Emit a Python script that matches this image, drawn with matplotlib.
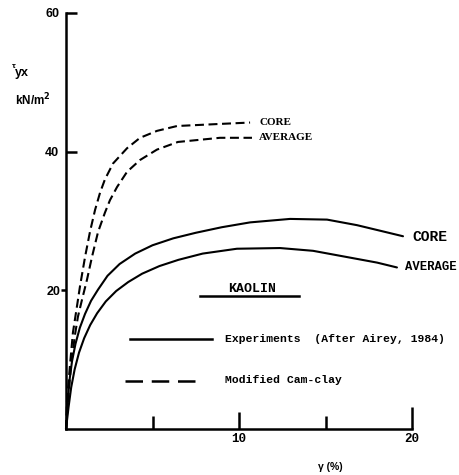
import numpy as np
import matplotlib
matplotlib.use('Agg')
import matplotlib.pyplot as plt

# --- данные (gamma в %, tau в kN/m2) ---
exp_core_g = [0.0, 0.1, 0.2, 0.35, 0.55, 0.8, 1.1, 1.45, 1.85, 2.4, 3.1, 4.0, 5.0,
              6.2, 7.5, 9.0, 10.64, 12.95, 15.09, 16.82, 18.32, 19.48]
exp_core_t = [0.0, 4.0, 7.0, 9.8, 12.3, 14.6, 16.6, 18.5, 20.1, 22.1, 23.8, 25.3, 26.5,
              27.5, 28.3, 29.1, 29.8, 30.3, 30.2, 29.4, 28.5, 27.8]

exp_avg_g = [0.0, 0.15, 0.3, 0.5, 0.75, 1.05, 1.4, 1.8, 2.3, 2.9, 3.6, 4.4, 5.4, 6.5,
             7.9, 9.88, 12.37, 14.28, 16.24, 17.98, 19.13]
exp_avg_t = [0.0, 3.2, 6.0, 8.6, 11.0, 13.1, 15.0, 16.7, 18.4, 19.9, 21.2, 22.4, 23.5,
             24.4, 25.3, 26.0, 26.1, 25.7, 24.8, 24.0, 23.3]

mcc_core_g = [0.0, 0.06, 0.23, 0.40, 0.64, 0.81, 1.10, 1.39, 1.68, 1.97, 2.25, 2.72,
              3.53, 4.28, 5.26, 6.42, 8.9, 10.64]
mcc_core_t = [0.0, 4.2, 9.2, 13.9, 17.8, 20.6, 24.8, 28.5, 31.6, 34.1, 36.0, 38.3,
              40.5, 42.0, 43.0, 43.7, 44.0, 44.2]

mcc_avg_g = [0.0, 0.12, 0.29, 0.52, 0.69, 0.92, 1.21, 1.50, 1.85, 2.25, 2.54, 2.95,
             3.53, 4.28, 5.26, 6.47, 8.9, 10.75]
mcc_avg_t = [0.0, 4.2, 9.2, 13.6, 16.2, 18.6, 21.5, 24.8, 28.4, 31.2, 33.0, 34.9,
             37.1, 38.8, 40.3, 41.4, 42.0, 42.0]

MONO = 'Liberation Mono'
SANS = 'Liberation Sans'
SERIF = 'Liberation Serif'

fig = plt.figure(figsize=(4.59, 4.75), dpi=100)
fig.patch.set_facecolor('white')
# оси расположены так, чтобы 0..20 и 0..60 совпадали с картинкой
ax = fig.add_axes([66 / 459, 46 / 475, 346 / 459, 416 / 475])
ax.set_xlim(0, 20)
ax.set_ylim(0, 60)
ax.set_facecolor('none')

for side in ('top', 'right'):
    ax.spines[side].set_visible(False)
for side in ('left', 'bottom'):
    ax.spines[side].set_linewidth(1.8)

# Кривые
lw = 1.5
solid_kw = dict(color='black', lw=lw, solid_capstyle='round', solid_joinstyle='round', clip_on=False)
dash_kw = dict(color='black', lw=lw, dashes=(4.3, 2.2), dash_joinstyle='round', clip_on=False)
ax.plot(exp_core_g, exp_core_t, **solid_kw)
ax.plot(exp_avg_g, exp_avg_t, **solid_kw)
ax.plot(mcc_core_g, mcc_core_t, **dash_kw)
ax.plot(mcc_avg_g, mcc_avg_t, **dash_kw)

# Деления оси X
ax.set_xticks([10, 20])
ax.set_xticklabels(['10', '20'], fontfamily=MONO, fontsize=9, fontweight='bold')
ax.set_xticks([5, 15], minor=True)
ax.tick_params(axis='x', which='major', direction='in', length=12, width=1.8, pad=3)
ax.tick_params(axis='x', which='minor', direction='in', length=9.5, width=1.8)
ax.xaxis.get_major_ticks()[1].tick1line.set_markersize(16)

# Деления оси Y
ax.set_yticks([40, 60])
ax.set_yticklabels(['40', '60'], fontfamily=SANS, fontsize=9, fontweight='bold')
ax.set_yticks([20], minor=True)
ax.set_yticklabels(['20'], minor=True, fontfamily=SANS, fontsize=9, fontweight='bold')
ax.tick_params(axis='y', which='major', direction='in', length=8, width=1.8, pad=5)
ax.tick_params(axis='y', which='minor', direction='out', length=3.5, width=1.8, pad=0.5)

# Подписи осей
ax.text(-3.1, 52.3, 'τ', fontfamily=SANS, fontsize=6, fontweight='bold', va='center')
ax.text(-2.95, 51.4, 'yx', fontfamily=SANS, fontsize=9, fontweight='bold', va='center')
ax.text(-2.95, 47.5, r'kN/m$^{\mathbf{2}}$', fontfamily=SANS, fontsize=8.5,
        fontweight='bold', va='center')
ax.text(15.3, -5.5, 'γ (%)', fontfamily=SANS, fontsize=7.5, fontweight='bold',
        ha='center', va='center')

# Подписи кривых
ax.text(20.0, 27.7, 'CORE', fontfamily=MONO, fontsize=10.5, fontweight='bold', va='center')
ax.text(19.6, 23.3, 'AVERAGE', fontfamily=MONO, fontsize=8.8, fontweight='bold', va='center')
ax.text(11.16, 44.2, 'CORE', fontfamily=SERIF, fontsize=8, fontweight='bold', va='center')
ax.text(11.16, 42.0, 'AVERAGE', fontfamily=SERIF, fontsize=8, fontweight='bold', va='center')

# Заголовок KAOLIN с подчёркиванием
ax.text(10.75, 20.2, 'KAOLIN', fontfamily=MONO, fontsize=9.5, fontweight='bold',
        ha='center', va='center')
ax.plot([7.75, 13.47], [19.2, 19.2], color='black', lw=1.8)

# Легенда вручную
ax.plot([3.7, 8.44], [13.0, 13.0], color='black', lw=1.8)
ax.text(9.19, 13.0, 'Experiments  (After Airey, 1984)', fontfamily=MONO, fontsize=8.2,
        fontweight='bold', va='center')
ax.plot([3.41, 7.86], [6.9, 6.9], color='black', lw=1.8, dashes=(7, 3.5))
ax.text(9.19, 7.0, 'Modified Cam-clay', fontfamily=MONO, fontsize=8.2,
        fontweight='bold', va='center')

plt.savefig('out.png', dpi=100)
plt.close()
